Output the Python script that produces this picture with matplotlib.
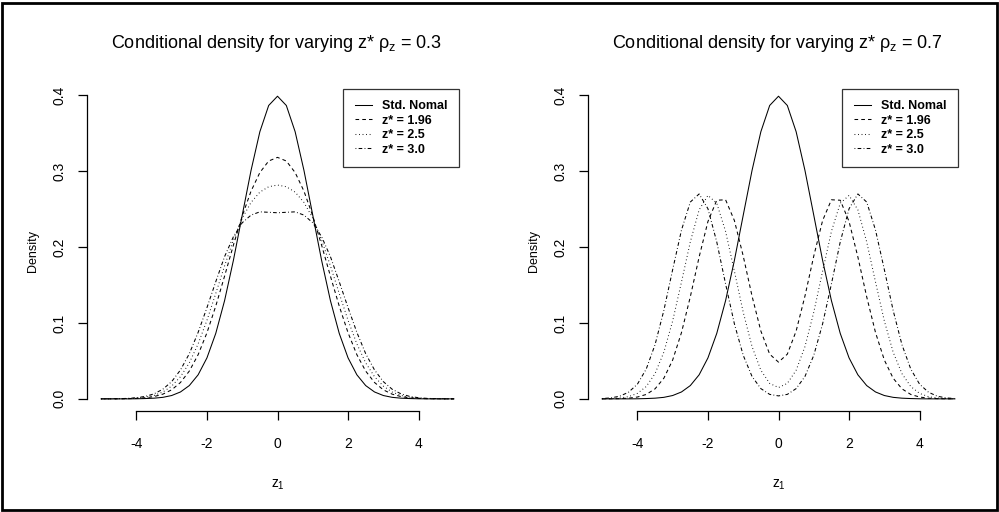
import numpy as np
import matplotlib
matplotlib.use("Agg")
import matplotlib.pyplot as plt
from matplotlib.patches import Rectangle

plt.rcParams["font.family"] = ["Liberation Sans", "DejaVu Sans"]
plt.rcParams["mathtext.fontset"] = "custom"
plt.rcParams["mathtext.rm"] = "Liberation Sans"
plt.rcParams["mathtext.it"] = "Liberation Sans"

# ── data (densities, x = -5 .. 5 in steps of 0.25) ──
z1 = np.linspace(-5, 5, 41)

std_normal = [0.0000, 0.0000, 0.0000, 0.0000, 0.0001, 0.0004, 0.0009, 0.0020, 0.0044, 0.0091,
              0.0175, 0.0317, 0.0540, 0.0863, 0.1295, 0.1826, 0.2420, 0.3011, 0.3521, 0.3867,
              0.3989,
              0.3867, 0.3521, 0.3011, 0.2420, 0.1826, 0.1295, 0.0863, 0.0540, 0.0317, 0.0175,
              0.0091, 0.0044, 0.0020, 0.0009, 0.0004, 0.0001, 0.0000, 0.0000, 0.0000, 0.0000]

# rho_z = 0.3
rho03_z196 = [0.0000, 0.0000, 0.0001, 0.0002, 0.0006, 0.0013, 0.0030, 0.0062, 0.0119, 0.0216,
              0.0366, 0.0582, 0.0871, 0.1223, 0.1618, 0.2026, 0.2411, 0.2738, 0.2983, 0.3135,
              0.3183,
              0.3135, 0.2983, 0.2738, 0.2411, 0.2026, 0.1618, 0.1223, 0.0871, 0.0582, 0.0366,
              0.0216, 0.0119, 0.0062, 0.0030, 0.0013, 0.0006, 0.0002, 0.0001, 0.0000, 0.0000]
rho03_z25 = [0.0000, 0.0000, 0.0002, 0.0004, 0.0009, 0.0021, 0.0045, 0.0090, 0.0168, 0.0292,
             0.0474, 0.0724, 0.1035, 0.1389, 0.1753, 0.2094, 0.2381, 0.2589, 0.2725, 0.2796,
             0.2818,
             0.2796, 0.2725, 0.2589, 0.2381, 0.2094, 0.1753, 0.1389, 0.1035, 0.0724, 0.0474,
             0.0292, 0.0168, 0.0090, 0.0045, 0.0021, 0.0009, 0.0004, 0.0002, 0.0000, 0.0000]
rho03_z30 = [0.0000, 0.0001, 0.0003, 0.0006, 0.0015, 0.0032, 0.0066, 0.0127, 0.0227, 0.0381,
             0.0595, 0.0876, 0.1202, 0.1544, 0.1875, 0.2137, 0.2321, 0.2422, 0.2465, 0.2459,
             0.2453,
             0.2459, 0.2465, 0.2422, 0.2321, 0.2137, 0.1875, 0.1544, 0.1202, 0.0876, 0.0595,
             0.0381, 0.0227, 0.0127, 0.0066, 0.0032, 0.0015, 0.0006, 0.0003, 0.0001, 0.0000]

# rho_z = 0.7
rho07_z196 = [0.0000, 0.0001, 0.0003, 0.0009, 0.0024, 0.0058, 0.0132, 0.0272, 0.0512, 0.0874,
              0.1345, 0.1870, 0.2338, 0.2618, 0.2624, 0.2350, 0.1883, 0.1355, 0.0894, 0.0589,
              0.0484,
              0.0589, 0.0894, 0.1355, 0.1883, 0.2350, 0.2624, 0.2618, 0.2338, 0.1870, 0.1345,
              0.0874, 0.0512, 0.0272, 0.0132, 0.0058, 0.0024, 0.0009, 0.0003, 0.0001, 0.0000]
rho07_z25 = [0.0001, 0.0004, 0.0011, 0.0029, 0.0072, 0.0162, 0.0332, 0.0615, 0.1027, 0.1540,
             0.2069, 0.2491, 0.2682, 0.2578, 0.2207, 0.1682, 0.1142, 0.0689, 0.0377, 0.0204,
             0.0149,
             0.0204, 0.0377, 0.0689, 0.1142, 0.1682, 0.2207, 0.2578, 0.2682, 0.2491, 0.2069,
             0.1540, 0.1027, 0.0615, 0.0332, 0.0162, 0.0072, 0.0029, 0.0011, 0.0004, 0.0001]
rho07_z30 = [0.0004, 0.0013, 0.0035, 0.0088, 0.0193, 0.0392, 0.0713, 0.1165, 0.1704, 0.2225,
             0.2594, 0.2701, 0.2506, 0.2068, 0.1515, 0.0988, 0.0574, 0.0295, 0.0135, 0.0059,
             0.0039,
             0.0059, 0.0135, 0.0295, 0.0574, 0.0988, 0.1515, 0.2068, 0.2506, 0.2701, 0.2594,
             0.2225, 0.1704, 0.1165, 0.0713, 0.0392, 0.0193, 0.0088, 0.0035, 0.0013, 0.0004]

legend_labels = ["Std. Nomal", "z* = 1.96", "z* = 2.5", "z* = 3.0"]
titles = [r"Conditional density for varying z* $\rho_z$ = 0.3",
          r"Conditional density for varying z* $\rho_z$ = 0.7"]
xticks = [-4, -2, 0, 2, 4]
yticks = [0.0, 0.1, 0.2, 0.3, 0.4]

# R-like line types: solid, dashed, dotted, dotdash
_STYLES = [dict(linestyle="-"),
           dict(linestyle=(0, (3.5, 3))),
           dict(linestyle=(0, (0.8, 2.6))),
           dict(linestyle=(0, (0.8, 2.2, 3.5, 2.2)))]

W, H = 999, 512
fig = plt.figure(figsize=(W / 100, H / 100), dpi=100)
fig.patch.set_facecolor("white")
fig.patches.append(Rectangle((2 / W, 2 / H), 1 - 4 / W, 1 - 5 / H, transform=fig.transFigure,
                             fill=False, edgecolor="black", linewidth=2))

panels = [(87, [std_normal, rho03_z196, rho03_z25, rho03_z30], 0.976),
          (588, [std_normal, rho07_z196, rho07_z25, rho07_z30], 0.971)]

for (left_px, series, leg_x), title in zip(panels, titles):
    ax = fig.add_axes([left_px / W, (H - 411) / H, 381 / W, 327 / H])
    for ys, st, lab in zip(series, _STYLES, legend_labels):
        ax.plot(z1, ys, color="black", linewidth=0.75, label=lab, **st)

    ax.set_xlim(-5.4, 5.4)
    ax.set_ylim(-0.016, 0.415)
    ax.set_xticks(xticks)
    ax.set_xticklabels([str(t) for t in xticks])
    ax.set_yticks(yticks)
    ax.set_yticklabels([f"{t:.1f}" for t in yticks])
    for sp in ("top", "right"):
        ax.spines[sp].set_visible(False)
    ax.spines["bottom"].set_bounds(-4, 4)
    ax.spines["left"].set_bounds(0, 0.4)
    for sp in ("bottom", "left"):
        ax.spines[sp].set_linewidth(0.9)
    ax.tick_params(direction="out", length=6.5, width=0.9, labelsize=10)
    ax.tick_params(axis="x", pad=12)
    ax.tick_params(axis="y", pad=8, labelrotation=90)
    for lbl in ax.get_yticklabels():
        lbl.set_va("center")

    ax.set_xlabel(r"$z_1$", fontsize=10)
    ax.xaxis.set_label_coords(0.5, -0.205)
    ax.set_ylabel("Density", fontsize=9)
    ax.yaxis.set_label_coords(-0.125, 0.49)

    fig.text((left_px + 189) / W, 1 - 43 / H, title, ha="center", va="center", fontsize=13)

    leg = ax.legend(loc="upper right", bbox_to_anchor=(leg_x, 0.985), borderaxespad=0,
                    prop=dict(size=9, weight="bold"), frameon=True, fancybox=False,
                    handlelength=1.4, labelspacing=0.2, borderpad=0.9, handletextpad=0.8)
    leg.get_frame().set_edgecolor("black")
    leg.get_frame().set_linewidth(0.9)

fig.savefig("out.png", dpi=100)
